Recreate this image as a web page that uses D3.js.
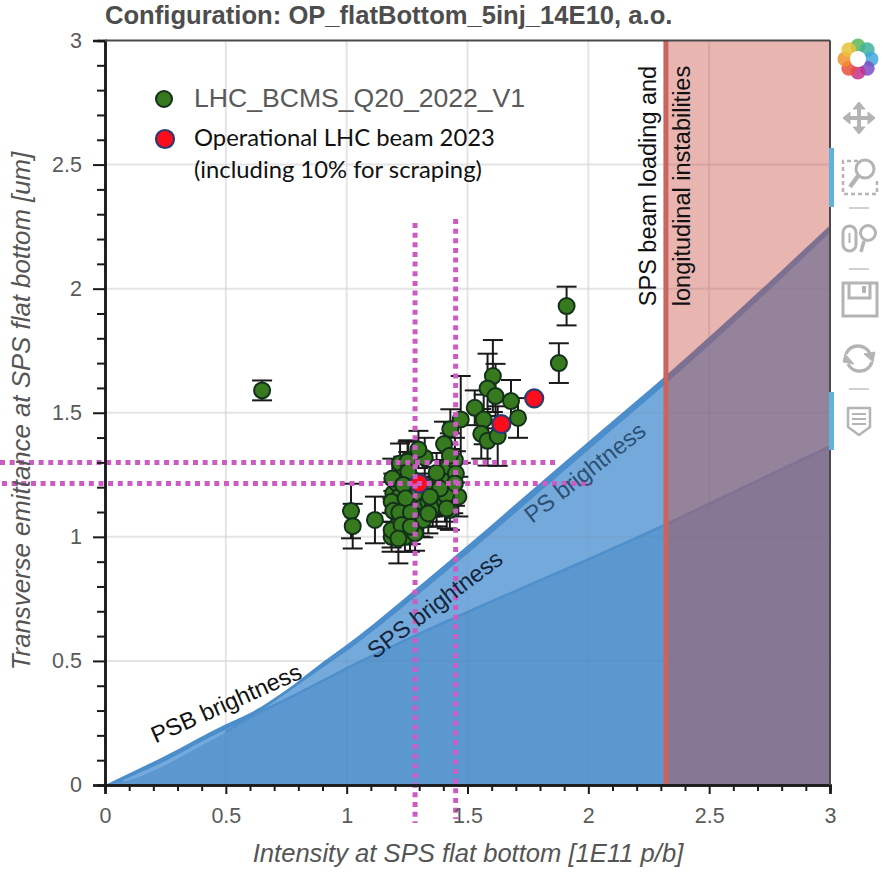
<!DOCTYPE html>
<html>
<head>
<meta charset="utf-8">
<script src="https://cdnjs.cloudflare.com/ajax/libs/d3/7.8.5/d3.min.js"></script>
<style>
  html, body { margin: 0; padding: 0; background: #fff; }
  svg { display: block; }
  text { font-family: "Liberation Sans", Arial, sans-serif; }
</style>
</head>
<body>
<div id="chart"></div>
<script>
// ==== DATA ====
const MAJOR_TICKS = [0, 0.5, 1, 1.5, 2, 2.5, 3];
const MINOR_TICKS = d3.range(0, 30).map(d => d / 10).filter(d => !MAJOR_TICKS.includes(d));

// first rows are the crowded points hidden in the middle of the cluster
const meanX = [1.248, 1.214, 1.234, 1.193, 1.207, 1.255, 1.221, 1.276, 1.296, 1.317, 1.303, 1.351, 1.386, 1.414,
  1.441, 1.427, 1.372, 1.421, 1.448, 1.262, 1.186, 1.241, 1.283, 1.317, 1.358, 1.462, 1.218, 1.234,
  1.91, 1.878, 0.65, 1.605, 1.583, 1.616, 1.68, 1.53, 1.709, 1.567, 1.472, 1.557, 1.583, 1.625,
  1.429, 1.403, 1.427, 1.452, 1.372, 1.323, 1.297, 1.252, 1.255, 1.189, 1.234, 1.186, 1.193, 1.244, 1.218,
  1.266, 1.338, 1.356, 1.338, 1.407, 1.411, 1.414, 1.448, 1.386, 1.345, 1.186, 1.227, 1.265, 1.214, 1.117,
  1.018, 1.025];
const meanY = [1.041, 1.048, 1.095, 1.175, 1.216, 1.309, 1.296, 1.229, 1.175, 1.122, 1.081, 1.202, 1.229, 1.229,
  1.175, 1.108, 1.122, 1.283, 1.309, 1.0, 1.0, 1.0, 1.014, 1.068, 1.162, 1.162, 1.162, 1.243,
  1.93, 1.70, 1.59, 1.648, 1.598, 1.567, 1.547, 1.52, 1.479, 1.473, 1.473, 1.415, 1.387, 1.406,
  1.434, 1.374, 1.327, 1.255, 1.258, 1.319, 1.352, 1.303, 1.262, 1.235, 1.209, 1.141, 1.105, 1.155, 1.098,
  1.098, 1.141, 1.121, 1.094, 1.141, 1.168, 1.114, 1.215, 1.195, 1.162, 1.027, 1.048, 1.041, 0.993, 1.068,
  1.104, 1.043];
const errY = [0.07, 0.07, 0.08, 0.08, 0.08, 0.08, 0.08, 0.08, 0.08, 0.08, 0.08, 0.08, 0.08, 0.08,
  0.08, 0.08, 0.08, 0.09, 0.09, 0.06, 0.06, 0.06, 0.07, 0.07, 0.08, 0.08, 0.08, 0.08,
  0.078, 0.08, 0.04, 0.145, 0.14, 0.13, 0.085, 0.07, 0.08, 0.1, 0.175, 0.1, 0.1, 0.12,
  0.08, 0.09, 0.09, 0.09, 0.08, 0.08, 0.075, 0.08, 0.08, 0.08, 0.08, 0.08, 0.08, 0.08, 0.08,
  0.08, 0.08, 0.08, 0.08, 0.08, 0.08, 0.08, 0.09, 0.08, 0.08, 0.07, 0.07, 0.07, 0.1, 0.094,
  0.11, 0.09];

const opX = [1.776, 1.64, 1.30];
const opY = [1.558, 1.454, 1.215];

const envelopeX = [0, 0.25, 0.5, 0.6, 0.75, 0.9, 1, 1.33, 1.5, 1.75, 2.048, 2.321, 3];
const envelopeY = [0, 0.118, 0.245, 0.29, 0.383, 0.495, 0.565, 0.826, 0.965, 1.175, 1.423, 1.65, 2.256];

const psInnerX = [0.075, 0.25, 0.43, 0.6, 0.75, 0.9, 1, 1.33, 1.5, 1.75, 2.048, 2.321, 3];
const psInnerY = [0.02, 0.097, 0.19, 0.272, 0.37, 0.472, 0.54, 0.795, 0.932, 1.14, 1.39, 1.617, 2.225];

const spsX = [0, 0.1, 0.25, 0.4, 0.5, 0.6, 0.75, 1, 2.321, 3];
const spsY = [0, 0.02, 0.08, 0.16, 0.213, 0.272, 0.345, 0.47, 1.05, 1.365];

const LIMIT_X = 2.321;
const V_GUIDES = [1.283, 1.451];
const H_GUIDES = [1.30, 1.215];

// ==== SIZE ====
const width = 884;
const height = 872;
const margin = { top: 40.5, right: 54, bottom: 87, left: 105 };

const x = d3.scaleLinear().domain([0, 3]).range([margin.left, width - margin.right]);
const y = d3.scaleLinear().domain([0, 3]).range([height - margin.bottom, margin.top]);

const svg = d3.select("#chart").append("svg")
  .attr("width", width)
  .attr("height", height)
  .attr("viewBox", `0 0 ${width} ${height}`);

// Title
svg.append("text")
  .attr("x", 105)
  .attr("y", 24)
  .attr("font-size", 25.6)
  .attr("font-weight", 700)
  .attr("fill", "#4d4d4d")
  .text("Configuration: OP_flatBottom_5inj_14E10, a.o.");

// Grid
function drawGrid(color) {
  const g = svg.append("g").attr("stroke", color).attr("stroke-width", 2);
  MAJOR_TICKS.slice(1, -1).forEach(v => {
    g.append("line").attr("x1", x(v)).attr("x2", x(v)).attr("y1", y(0)).attr("y2", y(3));
    g.append("line").attr("x1", x(0)).attr("x2", x(3)).attr("y1", y(v)).attr("y2", y(v));
  });
}
drawGrid("#f0f0f0");

// Brightness areas
const area = d3.area().x(d => x(d[0])).y0(y(0)).y1(d => y(d[1])).curve(d3.curveMonotoneX);
const zipped = (xs, ys) => xs.map((v, i) => [v, ys[i]]);

svg.append("path").attr("d", area(zipped(envelopeX, envelopeY))).attr("fill", "#4b8ecb");
svg.append("path").attr("d", area(zipped(psInnerX, psInnerY))).attr("fill", "#74aadb");
svg.append("path").attr("d", area(zipped(spsX, spsY))).attr("fill", "#5b98cf");
svg.append("path")
  .attr("d", d3.line().x(d => x(d[0])).y(d => y(d[1])).curve(d3.curveMonotoneX)(zipped(spsX, spsY).slice(4)))
  .attr("fill", "none")
  .attr("stroke", "#4f90cc")
  .attr("stroke-width", 2.5);

// Forbidden region (beam loading)
svg.append("rect")
  .attr("x", x(LIMIT_X))
  .attr("y", y(3))
  .attr("width", x(3) - x(LIMIT_X))
  .attr("height", y(0) - y(3))
  .attr("fill", "rgb(200,70,60)")
  .attr("fill-opacity", 0.4);
drawGrid("rgba(120,100,120,0.08)");
svg.append("line")
  .attr("x1", x(LIMIT_X)).attr("x2", x(LIMIT_X))
  .attr("y1", y(3)).attr("y2", y(0))
  .attr("stroke", "#c9645f")
  .attr("stroke-width", 5);

// Error bars
const gErr = svg.append("g").attr("stroke", "#1a1a1a").attr("stroke-width", 2);
meanX.forEach((mx, i) => {
  const cx = x(mx);
  gErr.append("line").attr("x1", cx).attr("x2", cx).attr("y1", y(meanY[i] - errY[i])).attr("y2", y(meanY[i] + errY[i]));
  [-1, 1].forEach(s => {
    gErr.append("line").attr("x1", cx - 10).attr("x2", cx + 10)
      .attr("y1", y(meanY[i] + s * errY[i])).attr("y2", y(meanY[i] + s * errY[i]));
  });
});

// Points
svg.append("g").selectAll("circle")
  .data(meanX)
  .join("circle")
  .attr("cx", d => x(d))
  .attr("cy", (d, i) => y(meanY[i]))
  .attr("r", 8)
  .attr("fill", "#37791f")
  .attr("stroke", "#12301a")
  .attr("stroke-width", 2);

svg.append("g").selectAll("circle")
  .data(opX)
  .join("circle")
  .attr("cx", d => x(d))
  .attr("cy", (d, i) => y(opY[i]))
  .attr("r", 9)
  .attr("fill", "#fb0d1b")
  .attr("stroke", "#2d3a70")
  .attr("stroke-width", 2.2);

// Magenta guides
const gGuides = svg.append("g")
  .attr("stroke", "#cb5cc4")
  .attr("stroke-width", 5)
  .attr("stroke-dasharray", "5 4.65")
  .attr("fill", "none");
gGuides.append("line").attr("x1", x(V_GUIDES[0])).attr("x2", x(V_GUIDES[0])).attr("y1", 223).attr("y2", 823);
gGuides.append("line").attr("x1", x(V_GUIDES[1])).attr("x2", x(V_GUIDES[1])).attr("y1", 219).attr("y2", 819);
gGuides.append("line").attr("x1", 0).attr("x2", 559).attr("y1", y(H_GUIDES[0])).attr("y2", y(H_GUIDES[0]));
gGuides.append("line").attr("x1", 2).attr("x2", 592).attr("y1", y(H_GUIDES[1])).attr("y2", y(H_GUIDES[1]));

// Axes
const gx = svg.append("g").attr("transform", `translate(0,${y(0)})`);
gx.call(d3.axisBottom(x).tickValues(MAJOR_TICKS).tickFormat(d3.format("~g")).tickSize(9).tickPadding(14));
const gxMinor = svg.append("g").attr("transform", `translate(0,${y(0)})`);
gxMinor.call(d3.axisBottom(x).tickValues(MINOR_TICKS).tickFormat("").tickSize(6));

const gy = svg.append("g").attr("transform", `translate(${x(0)},0)`);
gy.call(d3.axisLeft(y).tickValues(MAJOR_TICKS).tickFormat(d3.format("~g")).tickSize(12).tickPadding(11));
const gyMinor = svg.append("g").attr("transform", `translate(${x(0)},0)`);
gyMinor.call(d3.axisLeft(y).tickValues(MINOR_TICKS).tickFormat("").tickSize(8));

[gx, gy, gxMinor, gyMinor].forEach(g => {
  g.select(".domain").attr("stroke", "#1a1a1a").attr("stroke-width", 2.5);
  g.selectAll(".tick line").attr("stroke", "#1a1a1a").attr("stroke-width", 2);
  g.selectAll(".tick text").attr("font-size", 21.5).attr("fill", "#5a5a5a")
    .attr("font-family", "Liberation Sans, Arial, sans-serif");
});

// Top and right frame
svg.append("line").attr("x1", x(0)).attr("x2", x(3)).attr("y1", y(3)).attr("y2", y(3))
  .attr("stroke", "#4a4a4a").attr("stroke-width", 2);
svg.append("line").attr("x1", x(3)).attr("x2", x(3)).attr("y1", y(3)).attr("y2", y(0))
  .attr("stroke", "#4a4a4a").attr("stroke-width", 2);

// Axis labels
svg.append("text")
  .attr("x", 468).attr("y", 862)
  .attr("text-anchor", "middle")
  .attr("font-size", 25.6)
  .attr("font-style", "italic")
  .attr("fill", "#555")
  .text("Intensity at SPS flat bottom [1E11 p/b]");

svg.append("text")
  .attr("transform", "translate(30,411) rotate(-90)")
  .attr("text-anchor", "middle")
  .attr("font-size", 25.8)
  .attr("font-style", "italic")
  .attr("fill", "#555")
  .text("Transverse emittance at SPS flat bottom [um]");

// Annotations
function note(txt, cx, cy, angle, color) {
  svg.append("text")
    .attr("transform", `translate(${cx},${cy}) rotate(${angle})`)
    .attr("text-anchor", "middle")
    .attr("dominant-baseline", "middle")
    .attr("font-size", 23.5)
    .attr("fill", color)
    .text(txt);
}
note("PSB brightness", 227, 705, -24, "#111");
note("SPS brightness", 436, 606, -37, "#14243a");
note("PS brightness", 586, 474, -38, "#2c4f73");
note("SPS beam loading and", 650, 186, -90, "#111");
note("longitudinal instabilities", 684, 186, -90, "#111");

// Legend
svg.append("circle").attr("cx", 164).attr("cy", 99).attr("r", 8)
  .attr("fill", "#37791f").attr("stroke", "#12301a").attr("stroke-width", 2);
svg.append("circle").attr("cx", 165).attr("cy", 139).attr("r", 9)
  .attr("fill", "#fb0d1b").attr("stroke", "#2d3a70").attr("stroke-width", 2.2);
svg.append("text").attr("x", 194).attr("y", 107).attr("font-size", 26.6).attr("fill", "#5a5a5a")
  .text("LHC_BCMS_Q20_2022_V1");
["Operational LHC beam 2023", "(including 10% for scraping)"].forEach((t, i) => {
  svg.append("text").attr("x", 194).attr("y", 146 + i * 32)
    .attr("font-size", 23.8)
    .style("font-family", "Lato, sans-serif")
    .attr("fill", "#111")
    .text(t);
});

// ==== TOOLBAR ====
const tb = svg.append("g").attr("fill", "none").attr("stroke", "#b4b4b4").attr("stroke-width", 3);

// logo
const logoColors = ["#58b85a", "#3fb39a", "#3fa9dc", "#7a4fc4", "#c8308c", "#e8503a", "#f28e2b", "#e8c33a"];
const logo = svg.append("g").attr("transform", "translate(858,59)");
logoColors.forEach((c, i) => {
  const a = i * Math.PI / 4 - Math.PI / 2;
  logo.append("circle")
    .attr("cx", 13 * Math.cos(a)).attr("cy", 13 * Math.sin(a)).attr("r", 7.5)
    .attr("fill", c).attr("fill-opacity", 0.85);
});
logo.append("circle").attr("r", 8).attr("fill", "#fff");

// pan
tb.append("path").attr("d", "M859 103V133M844 118H874").attr("stroke-width", 4);
tb.append("path").attr("d", "M853 109L859 102L865 109ZM853 127L859 134L865 127ZM850 112L843 118L850 124ZM868 112L875 118L868 124Z")
  .attr("fill", "#b4b4b4").attr("stroke-width", 1);

// box zoom
tb.append("path").attr("d", "M858 161H843V194H877V180").attr("stroke-dasharray", "4 3").attr("stroke-width", 2.5);
tb.append("circle").attr("cx", 865).attr("cy", 169).attr("r", 9);
tb.append("path").attr("d", "M858 176L850 187").attr("stroke-width", 4.5);

// separators
[208, 269, 389].forEach(v => {
  tb.append("line").attr("x1", 849).attr("x2", 869).attr("y1", v).attr("y2", v).attr("stroke", "#d0d0d0").attr("stroke-width", 2);
});

// wheel zoom
tb.append("rect").attr("x", 843).attr("y", 226).attr("width", 13).attr("height", 25).attr("rx", 6.5);
tb.append("path").attr("d", "M849.5 233V243").attr("stroke-width", 2);
tb.append("circle").attr("cx", 868).attr("cy", 233).attr("r", 7.5);
tb.append("path").attr("d", "M864 241L861 252").attr("stroke-width", 3.5);

// save
tb.append("rect").attr("x", 843).attr("y", 283).attr("width", 34).attr("height", 33);
tb.append("path").attr("d", "M849 283V298H870V283");
tb.append("rect").attr("x", 862).attr("y", 286).attr("width", 4).attr("height", 7).attr("fill", "#b4b4b4").attr("stroke", "none");

// reset
tb.append("path").attr("d", "M846 354A13 13 0 0 1 870 354").attr("stroke-width", 3.5);
tb.append("path").attr("d", "M872 362A13 13 0 0 1 848 364").attr("stroke-width", 3.5);
tb.append("path").attr("d", "M864 354L875 352L873 362ZM854 364L843 362L845 354Z").attr("fill", "#b4b4b4").attr("stroke-width", 1);

// hover
tb.append("path").attr("d", "M848 408H870V427L859 435L848 427Z").attr("stroke-width", 2.5).attr("stroke-linejoin", "round");
tb.append("path").attr("d", "M852 414H866M852 419H866M852 424H866").attr("stroke-width", 2);

// active-tool markers
[[148, 59], [392, 58]].forEach(d => {
  svg.append("rect").attr("x", 829).attr("y", d[0]).attr("width", 5).attr("height", d[1]).attr("fill", "#5fb3dc");
});
</script>
</body>
</html>
